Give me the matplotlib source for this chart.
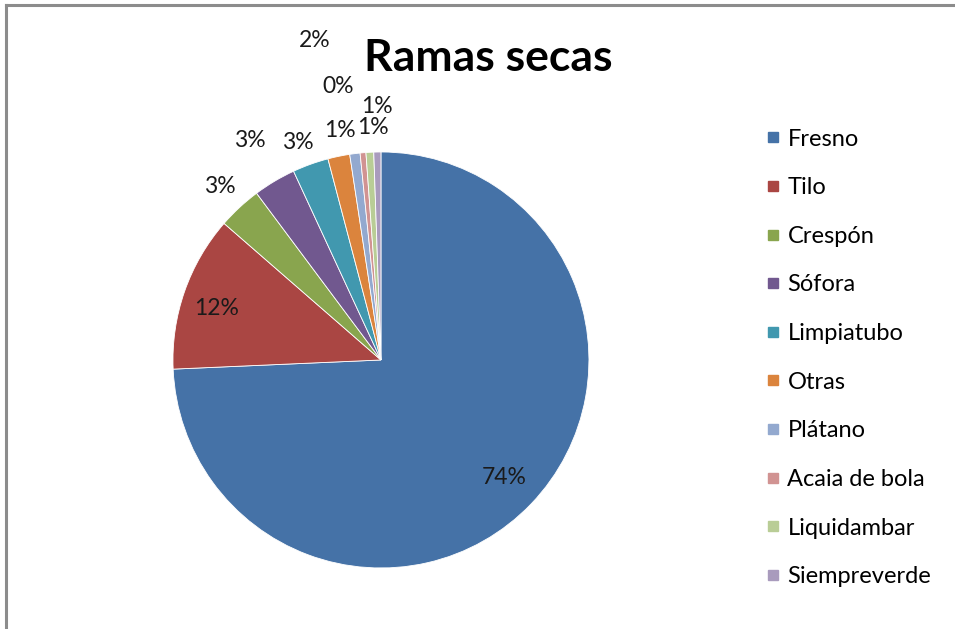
import numpy as np
import matplotlib
matplotlib.use("Agg")
import matplotlib.pyplot as plt
from matplotlib.lines import Line2D

# datos del gráfico (porcentajes aproximados)
especies = ["Fresno", "Tilo", "Crespón", "Sófora", "Limpiatubo", "Otras",
            "Plátano", "Acaia de bola", "Liquidambar", "Siempreverde"]
valores = [74.3, 12.1, 3.4, 3.3, 2.8, 1.7, 0.8, 0.45, 0.6, 0.55]
colores = ["#4572A7", "#AA4643", "#89A54E", "#71588F", "#4198AF",
           "#DB843D", "#93A9CF", "#D19392", "#B9CD96", "#A99BBD"]

# posición de las etiquetas (distancia radial y desplazamiento angular)
dist_etiq = [0.82, 0.83, 1.14, 1.23, 1.12, 1.57, 1.12, 1.33, 1.12, 1.22]
desp_etiq = [0, 2, 0, 0, 1, 0, 3, 4, -1, 0]

plt.rcParams["font.family"] = ["Lato", "DejaVu Sans"]

fig = plt.figure(figsize=(9.55, 6.29), dpi=100)
ax = fig.add_axes([0.1811, 0.0970, 0.4356, 0.6614])

wedges, _ = ax.pie(valores, colors=colores, startangle=90, counterclock=False,
                   radius=1.0, wedgeprops=dict(edgecolor="white", linewidth=0.6))
ax.set_xlim(-1, 1)
ax.set_ylim(-1, 1)
ax.set_aspect("equal")
ax.axis("off")

total = sum(valores)
for w, v, d, s in zip(wedges, valores, dist_etiq, desp_etiq):
    ang = np.deg2rad((w.theta1 + w.theta2) / 2 + s)
    ax.text(d * np.cos(ang), d * np.sin(ang), f"{round(v / total * 100):.0f}%",
            ha="center", va="center", fontsize=16.5, color="#1a1a1a", clip_on=False)

fig.text(0.511, 0.908, "Ramas secas", ha="center", va="center",
         fontsize=32, fontweight="bold")

handles = [Line2D([], [], marker="s", linestyle="none", markersize=7.5,
                  markerfacecolor=c, markeredgecolor=c) for c in colores]
fig.legend(handles, especies, loc="center left", bbox_to_anchor=(0.801, 0.431),
           frameon=False, fontsize=17, handletextpad=0.25, labelspacing=1.17,
           handlelength=0.7, borderpad=0, borderaxespad=0)

# borde gris del área del gráfico
fig.add_artist(Line2D([0.006, 1.0], [0.9921, 0.9921], color="#8c8c8c", lw=2.2,
                      transform=fig.transFigure))
fig.add_artist(Line2D([0.0063, 0.0063], [0.0, 0.9921], color="#8c8c8c", lw=2.2,
                      transform=fig.transFigure))

fig.savefig("out.png", dpi=100)
